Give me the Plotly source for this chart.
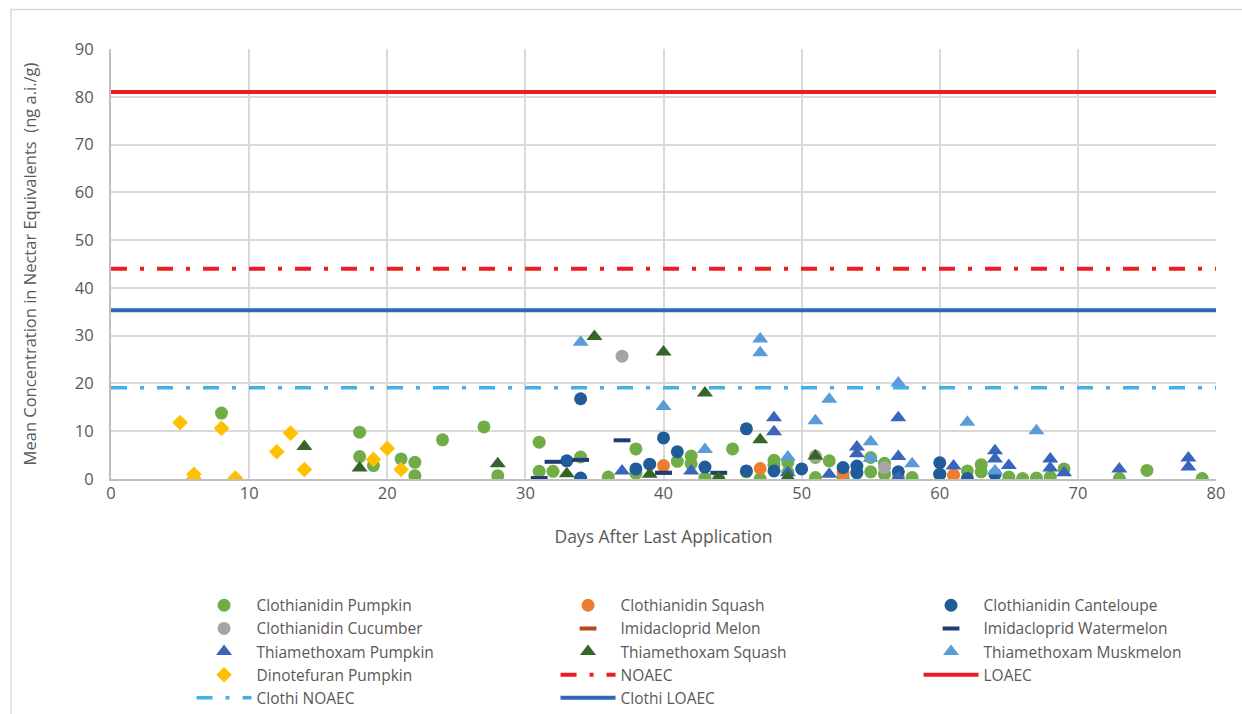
import plotly.graph_objects as go

# ---- data ----
clo_pumpkin_x = [8,18,18,19,21,22,22,24,27,28,31,31,32,34,36,38,38,41,42,42,43,44,45,46,47,48,48,49,49,51,51,52,53,54,55,55,56,56,57,58,60,62,63,63,65,66,67,68,69,73,75,79]
clo_pumpkin_y = [13.8,9.8,4.7,2.8,4.2,3.5,0.7,8.2,10.9,0.7,7.7,1.6,1.6,4.6,0.4,6.3,1.2,3.7,4.8,3.2,0.2,0.1,6.3,1.5,0.0,3.9,3.0,1.4,3.5,0.3,4.5,3.8,0.4,1.5,1.5,4.5,3.3,1.0,0.3,0.3,1.0,1.7,3.0,1.5,0.4,0.1,0.2,0.4,2.1,0.1,1.8,0.1]

clo_squash_x = [40,47,53,61]
clo_squash_y = [2.8,2.2,1.3,0.8]

clo_cant_x = [33,34,34,38,39,40,41,43,46,46,48,50,53,54,54,57,60,60,62,64]
clo_cant_y = [3.8,16.8,0.2,2.1,3.1,8.6,5.7,2.5,10.5,1.7,1.7,2.1,2.4,2.7,1.3,1.5,3.4,1.0,0.1,1.0]

clo_cuc_x = [37,51,56]
clo_cuc_y = [25.7,4.8,2.4]

imi_melon_x = [40]
imi_melon_y = [1.3]

imi_water_x = [31,32,34,37,40,44]
imi_water_y = [0.2,3.6,4.0,8.1,1.3,1.3]

thi_pumpkin_x = [37,42,48,48,49,52,54,54,57,57,57,61,64,64,65,68,68,69,73,78,78]
thi_pumpkin_y = [1.7,1.7,12.8,9.9,1.3,1.0,6.7,5.3,12.8,4.7,0.3,2.7,5.9,4.2,2.8,4.2,2.3,1.3,2.1,4.4,2.5]

thi_squash_x = [14,18,28,33,35,39,40,43,44,47,49,51]
thi_squash_y = [6.8,2.3,3.2,1.1,29.8,1.0,26.6,18.0,0.3,8.2,0.4,4.8]

thi_musk_x = [34,40,43,47,47,49,51,52,55,55,57,58,62,64,67]
thi_musk_y = [28.6,15.2,6.2,29.3,26.4,4.6,12.2,16.7,7.8,4.3,20.1,3.2,11.9,1.7,10.1]

dino_pumpkin_x = [5,6,6,8,9,12,13,14,19,20,21]
dino_pumpkin_y = [11.8,1.0,0.1,10.6,0.2,5.7,9.6,2.0,4.1,6.4,2.0]

line_x = [0, 80]
NOAEC = 44
LOAEC = 81
CLOTHI_NOAEC = 19.1
CLOTHI_LOAEC = 35.3

x_ticks = [0,10,20,30,40,50,60,70,80]
y_ticks = [0,10,20,30,40,50,60,70,80,90]

# ---- figure ----
fig = go.Figure()

def pts(name, xs, ys, color, leg, symbol="circle", size=13):
    fig.add_trace(go.Scatter(x=xs, y=ys, mode="markers", name=name, legend=leg,
                             marker=dict(color=color, symbol=symbol, size=size,
                                         line=dict(width=0))))

def dash(name, xs, ys, color, leg):
    fig.add_trace(go.Scatter(x=xs, y=ys, mode="markers", name=name, legend=leg,
                             marker=dict(symbol="line-ew", size=12,
                                         line=dict(width=4, color=color))))

def hline(name, val, color, width, dashpat, leg):
    fig.add_trace(go.Scatter(x=line_x, y=[val, val], mode="lines", name=name, legend=leg,
                             line=dict(color=color, width=width, dash=dashpat)))

pts("Clothianidin Pumpkin", clo_pumpkin_x, clo_pumpkin_y, "#70AD47", "legend")
pts("Clothianidin Squash", clo_squash_x, clo_squash_y, "#ED7D31", "legend2")
pts("Clothianidin Canteloupe", clo_cant_x, clo_cant_y, "#1F5C99", "legend3")
pts("Clothianidin Cucumber", clo_cuc_x, clo_cuc_y, "#A5A5A5", "legend")
dash("Imidacloprid Melon", imi_melon_x, imi_melon_y, "#B5471B", "legend2")
dash("Imidacloprid Watermelon", imi_water_x, imi_water_y, "#203C78", "legend3")
pts("Thiamethoxam Pumpkin", thi_pumpkin_x, thi_pumpkin_y, "#3A65BA", "legend", "triangle-up", 14)
pts("Thiamethoxam Squash", thi_squash_x, thi_squash_y, "#36652A", "legend2", "triangle-up", 14)
pts("Thiamethoxam Muskmelon", thi_musk_x, thi_musk_y, "#5A9BD8", "legend3", "triangle-up", 14)
pts("Dinotefuran Pumpkin", dino_pumpkin_x, dino_pumpkin_y, "#FFC000", "legend", "diamond", 12)
hline("NOAEC", NOAEC, "#EE1C25", 4, "16px,13px,4px,13px", "legend2")
hline("LOAEC", LOAEC, "#EE1C25", 4, "solid", "legend3")
hline("Clothi NOAEC", CLOTHI_NOAEC, "#45B0E8", 3.5, "16px,13px,4px,13px", "legend")
hline("Clothi LOAEC", CLOTHI_LOAEC, "#2E67B5", 4, "solid", "legend2")

tick_font = dict(family="Open Sans", size=16.5, color="#595959")

def leg(x):
    return dict(orientation="v", x=x, xanchor="left", y=0.1755, yanchor="top", yref="container",
                itemwidth=55, bgcolor="rgba(0,0,0,0)", tracegroupgap=0, traceorder="normal",
                font=dict(family="Open Sans", size=15.5, color="#595959"))

fig.update_layout(
    width=1242, height=714,
    margin=dict(l=111, r=26, t=49, b=235),
    paper_bgcolor="white", plot_bgcolor="white",
    font=dict(family="Open Sans", size=15, color="#595959"),
    showlegend=True,
    legend=leg(0.0729), legend2=leg(0.4023), legend3=leg(0.7308),
    xaxis=dict(range=[0, 80], tickvals=x_ticks, showgrid=True, gridcolor="#D9D9D9", gridwidth=1.5,
               showline=True, linecolor="#BFBFBF", linewidth=2, mirror=False, zeroline=False,
               ticks="", tickfont=tick_font, ticklabelstandoff=-2,
               title=dict(text="Days After Last Application",
                          font=dict(family="Open Sans", size=17.5, color="#595959"), standoff=28)),
    yaxis=dict(range=[0, 90], tickvals=y_ticks, showgrid=True, gridcolor="#D9D9D9", gridwidth=1.5,
               showline=True, linecolor="#BFBFBF", linewidth=2, zeroline=False,
               ticks="", tickfont=tick_font, ticklabelstandoff=12,
               title=dict(text="Mean Concentration in Nectar Equivalents  (ng a.i./g)",
                          font=dict(family="Open Sans", size=16.5, color="#595959"), standoff=34)),
)

# outer chart border (pixel -> paper conversion)
pw, ph = 1242 - 111 - 26, 714 - 49 - 235
def px2x(p): return (p - 111) / pw
def py2y(p): return (714 - 235 - p) / ph
fig.add_shape(type="rect", xref="paper", yref="paper",
              x0=px2x(11), x1=px2x(1250), y0=py2y(9.5), y1=py2y(720),
              line=dict(color="#D9D9D9", width=1.5), fillcolor="rgba(0,0,0,0)", layer="below")

fig.write_html("out.html")
